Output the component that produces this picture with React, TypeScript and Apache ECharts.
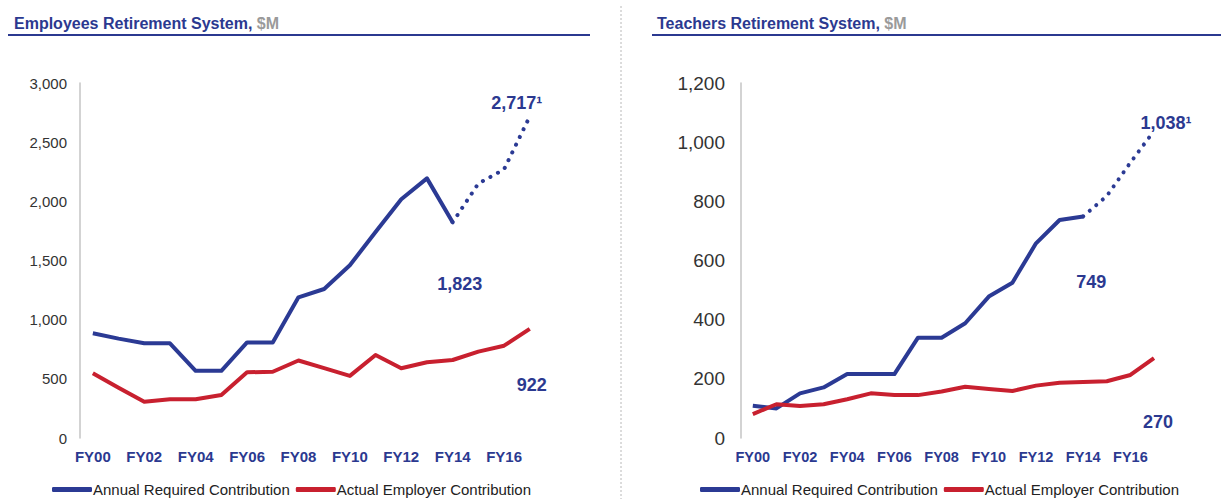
import React, { useEffect, useRef } from 'react';
import * as echarts from 'echarts';

const categories = ['FY00', 'FY01', 'FY02', 'FY03', 'FY04', 'FY05', 'FY06', 'FY07', 'FY08', 'FY09', 'FY10', 'FY11', 'FY12', 'FY13', 'FY14', 'FY15', 'FY16', 'FY17'];

// Employees Retirement System ($M)
const ersRequired = [885, 840, 800, 800, 568, 568, 808, 808, 1189, 1259, 1460, 1740, 2017, 2194, 1823, null, null, null];
const ersRequiredProjected = [null, null, null, null, null, null, null, null, null, null, null, null, null, null, 1823, 2150, 2270, 2717];
const ersActual = [548, 425, 307, 327, 327, 363, 555, 560, 655, 590, 525, 701, 589, 640, 659, 730, 780, 922];

// Teachers Retirement System ($M)
const trsRequired = [109, 100, 151, 171, 216, 216, 216, 339, 339, 388, 478, 525, 658, 737, 749, null, null, null];
const trsRequiredProjected = [null, null, null, null, null, null, null, null, null, null, null, null, null, null, 749, 818, 931, 1038];
const trsActual = [81, 114, 108, 114, 131, 151, 145, 145, 157, 173, 166, 159, 177, 187, 189, 192, 213, 270];

const ARC = 'Annual Required Contribution';
const AEC = 'Actual Employer Contribution';

const NAVY = '#2b3990';
const BLUE = '#2b3a94';
const RED = '#c8202f';
const FONT = 'Liberation Sans, Arial, sans-serif';

const fmt = (v: number) => v.toLocaleString('en-US');

function annot(coordCat: string, value: number, text: string, offset: number[]) {
  return {
    coord: [coordCat, value],
    symbol: 'circle',
    symbolSize: 1,
    itemStyle: { color: 'transparent' },
    label: {
      show: true,
      formatter: text,
      offset,
      color: NAVY,
      fontSize: 18,
      fontWeight: 'bold',
      fontFamily: FONT,
    },
  };
}

export default function App() {
  const ref = useRef<HTMLDivElement>(null);

  useEffect(() => {
    const chart = echarts.init(ref.current!, null, { renderer: 'svg' });

    const xAxisBase = (gridIndex: number, fontSize: number) => ({
      type: 'category',
      gridIndex,
      data: categories,
      boundaryGap: true,
      axisLine: { show: false },
      axisTick: { show: false },
      axisLabel: {
        interval: 1,
        margin: 11,
        color: NAVY,
        fontWeight: 'bold',
        fontSize,
        fontFamily: FONT,
      },
    });

    const yAxisBase = (gridIndex: number, max: number, interval: number, fontSize: number, margin: number) => ({
      type: 'value',
      gridIndex,
      min: 0,
      max,
      interval,
      axisLine: { show: true, lineStyle: { color: '#c4c4c4', width: 1.5 } },
      axisTick: { show: false },
      splitLine: { show: false },
      axisLabel: {
        margin,
        color: '#333333',
        fontSize,
        fontFamily: FONT,
        formatter: (v: number) => fmt(v),
      },
    });

    const solid = (name: string, data: (number | null)[], color: string, idx: number, markData: any[]) => ({
      name,
      type: 'line',
      xAxisIndex: idx,
      yAxisIndex: idx,
      data,
      showSymbol: false,
      symbol: 'none',
      connectNulls: false,
      lineStyle: { color, width: 4, join: 'round' },
      itemStyle: { color },
      markPoint: markData.length ? { data: markData, animation: false } : undefined,
    });

    const dotted = (name: string, data: (number | null)[], idx: number, markData: any[]) => ({
      name,
      type: 'line',
      xAxisIndex: idx,
      yAxisIndex: idx,
      data,
      showSymbol: false,
      symbol: 'none',
      lineStyle: { color: BLUE, width: 4, type: [0.1, 8.5], cap: 'round' },
      itemStyle: { color: BLUE },
      markPoint: { data: markData, animation: false },
    });

    const legendBase = (left: number) => ({
      left,
      top: 482,
      padding: 0,
      data: [ARC, AEC],
      icon: 'roundRect',
      itemWidth: 40,
      itemHeight: 5,
      itemGap: 6,
      textStyle: { fontSize: 15, color: '#222222', fontFamily: FONT, padding: [0, 0, 0, -4] },
    });

    const option: any = {
      animation: false,
      backgroundColor: '#ffffff',
      textStyle: { fontFamily: FONT },
      title: [
        {
          left: 9,
          top: 10,
          text: '{a|Employees Retirement System,} {b|$M}',
          textStyle: {
            fontSize: 16,
            rich: {
              a: { fontSize: 16, fontWeight: 'bold', color: NAVY, fontFamily: FONT },
              b: { fontSize: 16, color: '#9a9a9a', fontFamily: FONT },
            },
          },
        },
        {
          left: 652,
          top: 10,
          text: '{a|Teachers Retirement System,} {b|$M}',
          textStyle: {
            fontSize: 16,
            rich: {
              a: { fontSize: 16, fontWeight: 'bold', color: NAVY, fontFamily: FONT },
              b: { fontSize: 16, color: '#9a9a9a', fontFamily: FONT },
            },
          },
        },
      ],
      graphic: [
        { type: 'line', shape: { x1: 8, y1: 35, x2: 590, y2: 35 }, style: { stroke: NAVY, lineWidth: 2 } },
        { type: 'line', shape: { x1: 652, y1: 35, x2: 1221, y2: 35 }, style: { stroke: NAVY, lineWidth: 2 } },
        { type: 'line', shape: { x1: 621, y1: 6, x2: 621, y2: 499 }, style: { stroke: '#b8b8b8', lineWidth: 1, lineDash: [2, 2] } },
      ],
      legend: [legendBase(52), legendBase(700)],
      grid: [
        { left: 80, top: 83, width: 462.6, height: 355, containLabel: false },
        { left: 741, top: 83, width: 424.8, height: 355, containLabel: false },
      ],
      xAxis: [xAxisBase(0, 15), xAxisBase(1, 14.5)],
      yAxis: [yAxisBase(0, 3000, 500, 15, 13), yAxisBase(1, 1200, 200, 19, 16)],
      series: [
        solid(ARC, ersRequired, BLUE, 0, [annot('FY14', 1823, '1,823', [7, 62])]),
        dotted('ERS ARC projected', ersRequiredProjected, 0, [annot('FY17', 2717, '2,717¹', [-13, -13])]),
        solid(AEC, ersActual, RED, 0, [annot('FY17', 922, '922', [2, 56])]),
        solid(ARC, trsRequired, BLUE, 1, [annot('FY14', 749, '749', [8, 66])]),
        dotted('TRS ARC projected', trsRequiredProjected, 1, [annot('FY17', 1038, '1,038¹', [12, -8])]),
        solid(AEC, trsActual, RED, 1, [annot('FY17', 270, '270', [4, 64])]),
      ],
    };

    chart.setOption(option);
    return () => chart.dispose();
  }, []);

  return (
    <div
      ref={ref}
      style={{ position: 'absolute', left: 0, top: 0, width: 1221, height: 499 }}
    />
  );
}
